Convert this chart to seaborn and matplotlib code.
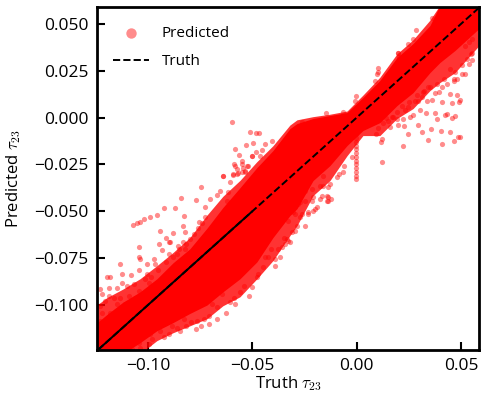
import matplotlib
matplotlib.use("Agg")
import matplotlib.pyplot as plt
import seaborn as sns
import pandas as pd

truth_grid = [-0.1244, -0.1196, -0.1120, -0.1038, -0.0957, -0.0880, -0.0799, -0.0717, -0.0641, -0.0559, -0.0478,
              -0.0401, -0.0320, -0.0286, -0.0209, -0.0128, -0.0046, 0.0030, 0.0111, 0.0193, 0.0270, 0.0351,
              0.0399, 0.0471, 0.0586]
pred_upper = [-0.1095, -0.1050, -0.0985, -0.0930, -0.0860, -0.0775, -0.0700, -0.0590, -0.0480, -0.0374, -0.0267,
              -0.0176, -0.0059, -0.0032, -0.0005, 0.0011, 0.0027, 0.0107, 0.0198, 0.0320, 0.0395, 0.0491,
              0.0600, 0.0600, 0.0600]
pred_lower = [-0.1260, -0.1260, -0.1260, -0.1201, -0.1137, -0.1094, -0.1045, -0.1000, -0.0930, -0.0860, -0.0770,
              -0.0640, -0.0523, -0.0486, -0.0336, -0.0256, -0.0149, -0.0069, -0.0027, 0.0064, 0.0133, 0.0240,
              0.0294, 0.0358, 0.0475]
pred_fringe_low = [-0.1260, -0.1260, -0.1260, -0.1260, -0.1190, -0.1148, -0.1111, -0.1073, -0.1004, -0.0956, -0.0860,
                   -0.0763, -0.0630, -0.0577, -0.0416, -0.0336, -0.0203, -0.0096, -0.0096, -0.0005, 0.0048, 0.0144,
                   0.0187, 0.0240, 0.0384]
pred_fringe_up = [-0.1000, -0.0960, -0.0915, -0.0860, -0.0790, -0.0720, -0.0640, -0.0520, -0.0420, -0.0335, -0.0235,
                  -0.0150, -0.0040, -0.0012, 0.0005, 0.0018, 0.0035, 0.0120, 0.0215, 0.0340, 0.0415, 0.0520,
                  0.0600, 0.0600, 0.0600]

# scattered points outside the dense part
upper_left = [(-0.1073, -0.0571), (-0.1054, -0.0562), (-0.1038, -0.0557), (-0.1017, -0.0541), (-0.0988, -0.0530),
              (-0.0955, -0.0518), (-0.0921, -0.0482), (-0.0868, -0.0482), (-0.0841, -0.0429), (-0.0768, -0.0440),
              (-0.0744, -0.0368), (-0.0670, -0.0413), (-0.0657, -0.0393), (-0.0638, -0.0311), (-0.0729, -0.0475),
              (-0.0704, -0.0434), (-0.0825, -0.0523), (-0.0830, -0.0577), (-0.0755, -0.0555), (-0.0940, -0.0605),
              (-0.0878, -0.0614), (-0.0822, -0.0609), (-0.0912, -0.0643), (-0.0894, -0.0666), (-0.1044, -0.0689),
              (-0.1041, -0.0746), (-0.1038, -0.0756), (-0.0948, -0.0675), (-0.0900, -0.0666), (-0.0932, -0.0707),
              (-0.0972, -0.0755), (-0.1004, -0.0782), (-0.1132, -0.0782), (-0.1124, -0.0835), (-0.1079, -0.0839),
              (-0.1044, -0.0814), (-0.1180, -0.0849), (-0.1196, -0.0853), (-0.1231, -0.0912), (-0.1188, -0.0910),
              (-0.1124, -0.0880), (-0.1100, -0.0897), (-0.1148, -0.0910), (-0.1068, -0.0888), (-0.1004, -0.0835),
              (-0.0964, -0.0782), (-0.0900, -0.0728), (-0.0852, -0.0702), (-0.0820, -0.0675), (-0.1220, -0.0942),
              (-0.1188, -0.0951), (-0.1164, -0.0960), (-0.1132, -0.0960), (-0.1092, -0.0951), (-0.1044, -0.0924),
              (-0.0996, -0.0880), (-0.1231, -0.1004), (-0.1204, -0.0977), (-0.1148, -0.0995), (-0.1108, -0.0995),
              (-0.1060, -0.0960), (-0.1220, -0.1040), (-0.1180, -0.1040), (-0.1148, -0.1031), (-0.1228, -0.1084),
              (-0.1196, -0.1084), (-0.0854, -0.0684), (-0.0830, -0.0666), (-0.0798, -0.0648), (-0.0862, -0.0728),
              (-0.0822, -0.0700), (-0.0985, -0.0850), (-0.0950, -0.0815), (-0.0915, -0.0770), (-0.0880, -0.0745),
              (-0.0780, -0.0620), (-0.0760, -0.0590), (-0.0740, -0.0560), (-0.0725, -0.0530), (-0.1015, -0.0860)]
upper_mid = [(-0.0597, -0.0021), (-0.0511, -0.0075), (-0.0483, -0.0080), (-0.0468, -0.0080), (-0.0583, -0.0166),
             (-0.0531, -0.0144), (-0.0497, -0.0133), (-0.0564, -0.0198), (-0.0483, -0.0182), (-0.0454, -0.0171),
             (-0.0502, -0.0203), (-0.0463, -0.0203), (-0.0588, -0.0246), (-0.0549, -0.0230), (-0.0526, -0.0256),
             (-0.0641, -0.0310), (-0.0574, -0.0272), (-0.0545, -0.0267), (-0.0593, -0.0304), (-0.0574, -0.0299),
             (-0.0549, -0.0288), (-0.0535, -0.0288), (-0.0439, -0.0139), (-0.0406, -0.0123), (-0.0583, -0.0256),
             (-0.0551, -0.0247), (-0.0519, -0.0256), (-0.0591, -0.0301), (-0.0567, -0.0297), (-0.0535, -0.0286),
             (-0.0503, -0.0203), (-0.0607, -0.0345), (-0.0615, -0.0399), (-0.0623, -0.0443)]
upper_right = [(0.0359, 0.0532), (0.0282, 0.0465), (0.0272, 0.0420), (0.0248, 0.0393), (0.0196, 0.0345),
               (0.0204, 0.0322), (0.0101, 0.0265), (0.0103, 0.0242), (0.0096, 0.0233), (0.0088, 0.0197),
               (-0.0003, 0.0117), (-0.0008, 0.0091), (-0.0067, 0.0032), (-0.0147, 0.0025), (-0.0263, -0.0025),
               (0.0200, 0.0344)]
lower_right = [(0.0119, -0.0237), (0.0224, -0.0149), (0.0411, -0.0140), (0.0341, -0.0119), (0.0464, -0.0126),
               (0.0248, -0.0087), (0.0312, -0.0075), (0.0354, -0.0060), (0.0405, -0.0069), (0.0448, -0.0078),
               (0.0485, -0.0105), (0.0496, -0.0101), (0.0296, -0.0037), (0.0229, -0.0043), (0.0197, -0.0037),
               (0.0160, -0.0048), (0.0123, -0.0114), (0.0117, -0.0132), (0.0091, -0.0087), (0.0176, 0.0002),
               (0.0192, -0.0007), (0.0224, -0.0007), (0.0256, 0.0002), (0.0272, 0.0016), (0.0304, 0.0038),
               (0.0331, 0.0025), (0.0376, 0.0023), (0.0384, -0.0007), (0.0421, 0.0016), (0.0432, 0.0020),
               (0.0456, -0.0002), (0.0472, 0.0006), (0.0411, 0.0082), (0.0459, 0.0079), (0.0496, 0.0095),
               (0.0488, 0.0082), (0.0480, 0.0121), (0.0448, 0.0127), (0.0336, 0.0091), (0.0360, 0.0095),
               (0.0296, 0.0091), (0.0288, 0.0118), (0.0312, 0.0109), (0.0376, 0.0130), (0.0392, 0.0136),
               (0.0408, 0.0162), (0.0432, 0.0180), (0.0464, 0.0207), (0.0520, 0.0233), (0.0504, 0.0278),
               (0.0552, 0.0305), (0.0549, 0.0337), (0.0528, 0.0314), (0.0536, 0.0287), (0.0472, 0.0242),
               (0.0448, 0.0260), (0.0416, 0.0207), (0.0344, 0.0162), (0.0320, 0.0136), (0.0248, 0.0055),
               (0.0232, 0.0038), (0.0192, 0.0029), (0.0168, 0.0002), (0.0552, 0.0343), (0.0536, 0.0402),
               (0.0520, 0.0384), (0.0552, 0.0420), (0.0505, 0.0233), (0.0481, 0.0206), (0.0464, 0.0197),
               (0.0384, 0.0180), (0.0353, 0.0162), (0.0321, 0.0144), (0.0280, 0.0090), (0.0250, 0.0085),
               (0.0215, 0.0060), (0.0140, 0.0000), (0.0125, -0.0030), (0.0150, -0.0020), (0.0100, -0.0055)]
spike = [(-0.0003, -0.0087), (-0.0003, -0.0110), (-0.0003, -0.0130), (-0.0003, -0.0150), (-0.0003, -0.0170),
         (-0.0003, -0.0190), (-0.0003, -0.0210), (-0.0003, -0.0230), (-0.0003, -0.0250), (-0.0003, -0.0270),
         (-0.0003, -0.0290), (-0.0003, -0.0310), (-0.0003, -0.0325)]
lower_mid = [(-0.0375, -0.0701), (-0.0335, -0.0648), (-0.0319, -0.0666), (-0.0423, -0.0746), (-0.0391, -0.0755),
             (-0.0391, -0.0790), (-0.0447, -0.0799), (-0.0471, -0.0835), (-0.0327, -0.0550), (-0.0303, -0.0505),
             (-0.0247, -0.0577), (-0.0295, -0.0603), (-0.0263, -0.0514), (-0.0231, -0.0505), (-0.0199, -0.0488),
             (-0.0271, -0.0452), (-0.0247, -0.0443), (-0.0207, -0.0425), (-0.0167, -0.0416), (-0.0247, -0.0393),
             (-0.0215, -0.0381), (-0.0175, -0.0363), (-0.0159, -0.0310), (-0.0135, -0.0425), (-0.0143, -0.0443),
             (-0.0122, -0.0434), (-0.0135, -0.0372), (-0.0087, -0.0301), (-0.0063, -0.0256), (-0.0023, -0.0212),
             (-0.0312, -0.0612), (-0.0288, -0.0577), (-0.0272, -0.0532), (-0.0296, -0.0514), (-0.0232, -0.0514),
             (-0.0208, -0.0497), (-0.0192, -0.0479), (-0.0280, -0.0461), (-0.0216, -0.0443), (-0.0176, -0.0434),
             (-0.0136, -0.0443), (-0.0144, -0.0417), (-0.0160, -0.0363), (-0.0328, -0.0657), (-0.0344, -0.0675),
             (-0.0360, -0.0689), (-0.0128, -0.0354), (-0.0096, -0.0319), (-0.0064, -0.0292), (-0.0350, -0.0640),
             (-0.0410, -0.0700), (-0.0440, -0.0745), (-0.0365, -0.0745)]
lower_left = [(-0.0996, -0.1209), (-0.0980, -0.1182), (-0.0924, -0.1173), (-0.0900, -0.1155), (-0.0844, -0.1138),
              (-0.0820, -0.1111), (-0.0772, -0.1129), (-0.0748, -0.1111), (-0.0708, -0.1102), (-0.0668, -0.1075),
              (-0.0628, -0.1040), (-0.0668, -0.1013), (-0.0708, -0.1058), (-0.0764, -0.1084), (-0.0828, -0.1075),
              (-0.0884, -0.1111), (-0.0940, -0.1138), (-0.0988, -0.1155), (-0.1036, -0.1227), (-0.1044, -0.1200),
              (-0.1076, -0.1236), (-0.0692, -0.0995), (-0.0644, -0.0942), (-0.0628, -0.0880), (-0.0732, -0.1075),
              (-0.0796, -0.1093), (-0.0860, -0.1120), (-0.0582, -0.0995), (-0.0518, -0.0951), (-0.0502, -0.0906),
              (-0.0606, -0.0986), (-0.0558, -0.0933), (-0.0590, -0.0960), (-0.0540, -0.0900), (-0.0478, -0.0853)]

truth_line_x = [-0.124, 0.059]
solid_line_x = [-0.124, -0.050]
x_ticks = [-0.10, -0.05, 0.00, 0.05]
y_ticks = [-0.100, -0.075, -0.050, -0.025, 0.000, 0.025, 0.050]

sns.set_style("white")
plt.rcParams['font.family'] = ['Open Sans', 'DejaVu Sans']
plt.rcParams['mathtext.fontset'] = 'cm'
plt.rcParams['text.color'] = 'black'
plt.rcParams['axes.labelcolor'] = 'black'
plt.rcParams['xtick.color'] = 'black'
plt.rcParams['ytick.color'] = 'black'

fig = plt.figure(figsize=(4.86, 4.03), dpi=100)
ax = fig.add_axes([97 / 486, 53 / 403, 382 / 486, 343 / 403])

points = upper_left + upper_mid + upper_right + lower_right + spike + lower_mid + lower_left
df = pd.DataFrame(points, columns=["truth", "pred"])

ax.fill_between(truth_grid, pred_fringe_low, pred_fringe_up, color="red", alpha=0.8, lw=0)
ax.fill_between(truth_grid, pred_lower, pred_upper, color="red", lw=0)
sns.scatterplot(x="truth", y="pred", data=df, color="red", alpha=0.45, s=14, linewidth=0, label="Predicted", ax=ax)
sns.lineplot(x=truth_line_x, y=truth_line_x, color="black", linestyle="--", linewidth=1.4, label="Truth", ax=ax)
sns.lineplot(x=solid_line_x, y=solid_line_x, color="black", linewidth=1.4, ax=ax)

ax.set_xlim(-0.1244, 0.0586)
ax.set_ylim(-0.124, 0.059)
ax.set_xticks(x_ticks)
ax.set_yticks(y_ticks)
ax.tick_params(direction="in", length=6, width=1.5, labelsize=12.5, pad=6, bottom=True, left=True)
for spine in ax.spines.values():
    spine.set_linewidth(2)
    spine.set_color("black")

ax.set_xlabel(r"Truth $\tau_{23}$", fontsize=12, labelpad=0)
ax.set_ylabel(r"Predicted $\tau_{23}$", fontsize=12, labelpad=8)
ax.legend(loc="upper left", frameon=False, fontsize=11, markerscale=2, handlelength=2.4, labelspacing=0.85,
          bbox_to_anchor=(0.005, 0.985))

fig.savefig("out.png", dpi=100)
